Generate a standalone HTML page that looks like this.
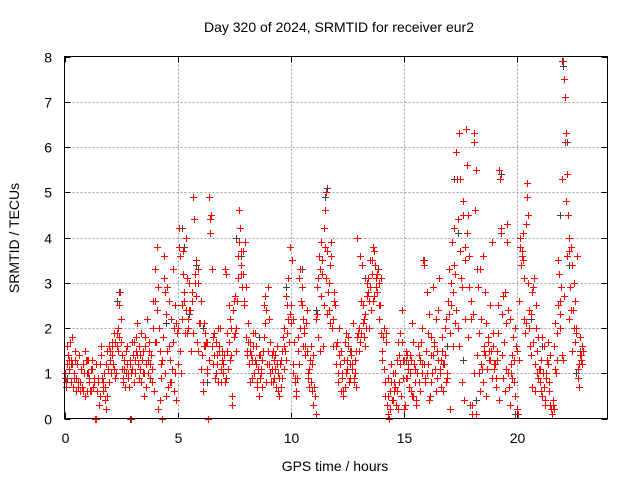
<!DOCTYPE html>
<html><head><meta charset="utf-8"><style>
html,body{margin:0;padding:0;background:#fff;}
svg{display:block;font-family:"Liberation Sans",sans-serif;}
</style></head><body>
<svg id="chart" width="640" height="480" viewBox="0 0 640 480">
<rect x="0" y="0" width="640" height="480" fill="#fff"/>
<text x="339" y="32" font-size="14" text-anchor="middle" fill="#000">Day 320 of 2024, SRMTID for receiver eur2</text>
<text transform="translate(19,238) rotate(-90)" font-size="14" text-anchor="middle" fill="#000">SRMTID / TECUs</text>
<text x="335" y="471" font-size="14" text-anchor="middle" fill="#000">GPS time / hours</text>
<g id="grid"></g>
<g id="ticks"></g>
<g id="pts"></g>
<rect x="64.5" y="56.5" width="543" height="362" fill="none" stroke="#000" stroke-width="1"/>
</svg>
<script>
const xTicks=[0,5,10,15,20];
const yTicks=[0,1,2,3,4,5,6,7,8];
const redT=[
0.00,0.05,0.10,0.15,0.20,0.25,0.30,0.35,0.40,0.45,0.50,0.55,0.60,0.65,0.70,0.75,0.80,0.85,0.90,0.95,
0.02,0.08,0.12,0.18,0.22,0.28,0.32,0.38,0.42,0.48,0.52,0.58,0.62,0.68,0.72,0.78,0.82,0.88,0.92,0.98,
1.00,1.05,1.10,1.15,1.20,1.25,1.30,1.35,1.40,1.45,1.50,1.55,1.60,1.65,1.70,1.75,1.80,1.85,1.90,1.95,
1.02,1.08,1.12,1.18,1.22,1.28,1.32,1.38,1.42,1.48,1.52,1.58,1.62,1.68,1.72,1.78,1.82,1.88,1.92,1.98,
2.00,2.05,2.10,2.15,2.20,2.25,2.30,2.35,2.40,2.45,2.50,2.55,2.60,2.65,2.70,2.75,2.80,2.85,2.90,2.95,
2.02,2.08,2.12,2.18,2.22,2.28,2.32,2.38,2.42,2.48,2.52,2.58,2.62,2.68,2.72,2.78,2.82,2.88,2.92,2.98,
3.00,3.05,3.10,3.15,3.20,3.25,3.30,3.35,3.40,3.45,3.50,3.55,3.60,3.65,3.70,3.75,3.80,3.85,3.90,3.95,
3.02,3.08,3.12,3.18,3.22,3.28,3.32,3.38,3.42,3.48,3.52,3.58,3.62,3.68,3.72,3.78,3.82,3.88,3.92,3.98,
4.00,4.05,4.10,4.15,4.20,4.25,4.30,4.35,4.40,4.45,4.50,4.55,4.60,4.65,4.70,4.75,4.80,4.85,4.90,4.95,
4.02,4.08,4.12,4.18,4.22,4.28,4.32,4.38,4.42,4.48,4.52,4.58,4.62,4.68,4.72,4.78,4.82,4.88,4.92,4.98,
5.00,5.05,5.10,5.15,5.20,5.25,5.30,5.35,5.40,5.45,5.50,5.55,5.60,5.65,5.70,5.75,5.80,5.85,5.90,5.95,
5.02,5.08,5.12,5.18,5.22,5.28,5.32,5.38,5.42,5.48,5.52,5.58,5.62,5.68,5.72,5.78,5.82,5.88,5.92,5.98,
6.00,6.05,6.10,6.15,6.20,6.25,6.30,6.35,6.40,6.45,6.50,6.55,6.60,6.65,6.70,6.75,6.80,6.85,6.90,6.95,
6.02,6.08,6.12,6.18,6.22,6.28,6.32,6.38,6.42,6.48,6.52,6.58,6.62,6.68,6.72,6.78,6.82,6.88,6.92,6.98,
7.00,7.05,7.10,7.15,7.20,7.25,7.30,7.35,7.40,7.45,7.50,7.55,7.60,7.65,7.70,7.75,7.80,7.85,7.90,7.95,
7.02,7.08,7.12,7.18,7.22,7.28,7.32,7.38,7.42,7.48,7.52,7.58,7.62,7.68,7.72,7.78,7.82,7.88,7.92,7.98,
8.00,8.05,8.10,8.15,8.20,8.25,8.30,8.35,8.40,8.45,8.50,8.55,8.60,8.65,8.70,8.75,8.80,8.85,8.90,8.95,
8.02,8.08,8.12,8.18,8.22,8.28,8.32,8.38,8.42,8.48,8.52,8.58,8.62,8.68,8.72,8.78,8.82,8.88,8.92,8.98,
9.00,9.05,9.10,9.15,9.20,9.25,9.30,9.35,9.40,9.45,9.50,9.55,9.60,9.65,9.70,9.75,9.80,9.85,9.90,9.95,
9.02,9.08,9.12,9.18,9.22,9.28,9.32,9.38,9.42,9.48,9.52,9.58,9.62,9.68,9.72,9.78,9.82,9.88,9.92,9.98,
10.00,10.05,10.10,10.15,10.20,10.25,10.30,10.35,10.40,10.45,10.50,10.55,10.60,10.65,10.70,10.75,10.80,10.85,10.90,10.95,
10.02,10.08,10.12,10.18,10.22,10.28,10.32,10.38,10.42,10.48,10.52,10.58,10.62,10.68,10.72,10.78,10.82,10.88,10.92,10.98,
11.00,11.05,11.10,11.15,11.20,11.25,11.30,11.35,11.40,11.45,11.50,11.55,11.60,11.65,11.70,11.75,11.80,11.85,11.90,11.95,
11.02,11.08,11.12,11.18,11.22,11.28,11.32,11.38,11.42,11.48,11.52,11.58,11.62,11.68,11.72,11.78,11.82,11.88,11.92,11.98,
12.00,12.05,12.10,12.15,12.20,12.25,12.30,12.35,12.40,12.45,12.50,12.55,12.60,12.65,12.70,12.75,12.80,12.85,12.90,12.95,
12.02,12.08,12.12,12.18,12.22,12.28,12.32,12.38,12.42,12.48,12.52,12.58,12.62,12.68,12.72,12.78,12.82,12.88,12.92,12.98,
13.00,13.05,13.10,13.15,13.20,13.25,13.30,13.35,13.40,13.45,13.50,13.55,13.60,13.65,13.70,13.75,13.80,13.85,13.90,13.95,
13.02,13.08,13.12,13.18,13.22,13.28,13.32,13.38,13.42,13.48,13.52,13.58,13.62,13.68,13.72,13.78,13.82,13.88,13.92,13.98,
14.00,14.05,14.10,14.15,14.20,14.25,14.30,14.35,14.40,14.45,14.50,14.55,14.60,14.65,14.70,14.75,14.80,14.85,14.90,14.95,
14.02,14.08,14.12,14.18,14.22,14.28,14.32,14.38,14.42,14.48,14.52,14.58,14.62,14.68,14.72,14.78,14.82,14.88,14.92,14.98,
15.00,15.05,15.10,15.15,15.20,15.25,15.30,15.35,15.40,15.45,15.50,15.55,15.60,15.65,15.70,15.75,15.80,15.85,15.90,15.95,
15.02,15.08,15.12,15.18,15.22,15.28,15.32,15.38,15.42,15.48,15.52,15.58,15.62,15.68,15.72,15.78,15.82,15.88,15.92,15.98,
16.00,16.05,16.10,16.15,16.20,16.25,16.30,16.35,16.40,16.45,16.50,16.55,16.60,16.65,16.70,16.75,16.80,16.85,16.90,16.95,
16.02,16.08,16.12,16.18,16.22,16.28,16.32,16.38,16.42,16.48,16.52,16.58,16.62,16.68,16.72,16.78,16.82,16.88,16.92,16.98,
17.00,17.05,17.10,17.15,17.20,17.25,17.30,17.35,17.40,17.45,17.50,17.55,17.60,17.65,17.70,17.75,17.80,17.85,17.90,17.95,
17.02,17.08,17.12,17.18,17.22,17.28,17.32,17.38,17.42,17.48,17.52,17.58,17.62,17.68,17.72,17.78,17.82,17.88,17.92,17.98,
18.00,18.05,18.10,18.15,18.20,18.25,18.30,18.35,18.40,18.45,18.50,18.55,18.60,18.65,18.70,18.75,18.80,18.85,18.90,18.95,
18.02,18.08,18.12,18.18,18.22,18.28,18.32,18.38,18.42,18.48,18.52,18.58,18.62,18.68,18.72,18.78,18.82,18.88,18.92,18.98,
19.00,19.05,19.10,19.15,19.20,19.25,19.30,19.35,19.40,19.45,19.50,19.55,19.60,19.65,19.70,19.75,19.80,19.85,19.90,19.95,
19.02,19.08,19.12,19.18,19.22,19.28,19.32,19.38,19.42,19.48,19.52,19.58,19.62,19.68,19.72,19.78,19.82,19.88,19.92,19.98,
20.00,20.05,20.10,20.15,20.20,20.25,20.30,20.35,20.40,20.45,20.50,20.55,20.60,20.65,20.70,20.75,20.80,20.85,20.90,20.95,
20.02,20.08,20.12,20.18,20.22,20.28,20.32,20.38,20.42,20.48,20.52,20.58,20.62,20.68,20.72,20.78,20.82,20.88,20.92,20.98,
21.00,21.05,21.10,21.15,21.20,21.25,21.30,21.35,21.40,21.45,21.50,21.55,21.60,21.65,21.70,21.75,21.80,21.85,21.90,21.95,
21.02,21.08,21.12,21.18,21.22,21.28,21.32,21.38,21.42,21.48,21.52,21.58,21.62,21.68,21.72,21.78,21.82,21.88,21.92,21.98,
22.00,22.05,22.10,22.15,22.20,22.25,22.30,22.35,22.40,22.45,22.50,22.55,22.60,22.65,22.70,22.75,22.80,22.85,22.88,22.90,
22.02,22.06,22.08,22.12,22.16,22.22,22.28,22.32,22.38,22.42,22.48,22.52,22.58,22.62,22.68,22.72,22.78,22.82,22.86,22.89
];
const redV=[
0.9,0.8,1.2,1.4,1.1,1.7,1.3,1.8,1.0,1.5,0.9,1.2,0.7,1.4,0.8,1.1,0.6,1.0,0.5,1.3,
1.0,0.7,1.6,1.1,1.3,0.8,1.2,0.7,0.9,1.3,0.6,0.8,1.4,0.6,1.1,0.7,1.2,1.0,1.5,1.3,
0.6,1.3,0.9,0.6,1.1,0.7,0.9,0,0,0.6,0.8,0.5,1.6,0.9,0.7,1.0,0.4,0.2,1.5,0.8,
1.0,0.8,0.6,1.1,1.3,0.7,0.8,1.2,0.6,0.9,0.3,1.2,1.4,0.6,0.8,0.7,1.2,0.5,1.1,1.6,
1.5,1.0,1.7,1.2,1.9,0.9,1.6,2.0,1.8,2.8,2.2,1.1,0.8,1.3,1.0,1.6,0.9,0.7,1.2,1.0,
1.3,1.6,1.4,1.1,1.7,1.0,1.9,1.5,2.5,1.7,1.4,0.9,1.1,0.7,1.5,1.2,1.0,1.3,0,1.7,
1.1,1.7,1.3,1.5,2.1,1.2,0.9,1.4,1.9,1.0,0.5,1.6,1.2,2.2,1.3,1.7,0.9,1.1,2.0,0.6,
1.4,0.8,1.0,1.8,1.4,1.6,1.1,0.8,1.3,1.5,1.0,1.8,0.7,1.0,1.5,1.2,1.4,0.8,2.6,1.7,
2.6,1.7,3.8,2.9,0.4,1.2,0,1.8,3.6,2.8,0.5,2.9,1.6,0.8,2.2,1.1,3.3,0.6,2.5,0.4,
3.3,2.4,0.2,2.0,1.5,0.9,1.3,3.1,1.0,2.3,1.5,0.7,2.6,1.3,0.8,1.7,2.0,1.0,2.1,1.9,
1.2,4.2,3.6,1.0,2.5,3.2,2.8,4.0,1.9,2.2,3.0,2.4,1.5,2.6,4.9,3.2,3.5,1.7,3.0,2.1,
2.0,3.8,1.5,2.2,3.7,2.6,1.9,2.4,3.1,2.0,2.4,1.5,2.8,1.9,4.4,3.0,2.7,3.3,1.5,2.1,
2.1,1.1,0.6,1.6,1.9,1.7,1.0,0,4.9,4.4,3.3,1.8,1.4,0.9,1.7,1.2,2.0,1.5,0.8,1.3,
2.6,1.4,0.8,2.1,1.6,1.1,1.7,1.3,4.1,4.5,1.6,1.2,1.9,1.0,1.4,0.8,1.6,2.0,1.1,1.5,
1.0,1.4,3.3,0.9,1.9,2.5,1.3,2.0,0.3,2.4,1.8,2.7,1.5,3.1,4.6,4.2,3.7,2.9,3.2,2.5,
1.2,0.8,3.2,1.5,1.1,1.7,2.2,1.4,0.5,2.6,1.9,2.0,2.6,3.6,3.9,3.4,3.2,3.7,2.6,3.9,
1.8,1.5,2.1,1.2,1.7,1.4,0.9,1.9,1.3,1.6,0.8,1.1,0.5,1.4,1.0,0.7,1.8,2.7,2.4,1.2,
2.9,1.4,1.7,0.8,1.5,1.3,1.6,1.0,1.9,1.2,0.7,1.4,0.9,1.1,1.3,1.5,2.5,2.1,0.8,2.9,
1.5,2.2,1.0,1.4,0.8,1.3,1.1,0.7,1.6,1.0,0.5,1.3,0.9,1.8,2.0,1.5,2.7,1.9,3.1,2.3,
1.2,1.7,0.8,1.1,1.5,0.9,1.4,1.2,0.6,0.9,1.2,0.7,1.5,1.1,1.6,1.3,2.5,2.2,1.7,3.8,
2.1,3.5,1.0,1.7,0.8,0.5,1.5,1.2,3.3,2.6,2.9,2.2,1.9,1.4,2.4,1.0,0.7,1.3,0.8,1.2,
2.5,2.2,1.2,0.9,0.6,0.9,1.8,3.1,2.0,2.5,1.6,2.0,1.6,2.1,1.5,0.9,1.1,1.6,0.6,1.4,
0.3,0.5,0.1,2.3,1.8,3.6,1.5,3.9,3.2,2.5,4.6,5.0,3.7,2.8,2.4,3.4,3.9,2.2,2.8,2.5,
0.7,0.5,2.2,2.9,3.1,3.3,2.7,3.5,1.6,4.2,3.8,3.1,2.3,3.0,2.1,3.6,2.0,1.6,2.6,1.2,
1.2,1.7,0.8,2.0,1.5,1.0,0.5,1.3,0.7,1.9,1.1,1.6,0.9,1.4,1.2,2.1,0.8,1.0,1.5,1.8,
1.6,1.0,1.4,1.2,0.6,0.9,0.6,1.7,1.0,1.3,1.8,0.8,1.2,1.5,1.1,0.9,1.3,0.7,4.0,1.9,
2.0,1.7,2.6,3.4,2.1,1.8,2.3,3.0,2.8,2.0,3.5,2.4,3.2,2.6,3.7,3.1,2.8,3.3,3.0,2.5,
1.5,3.6,1.9,2.5,2.2,1.6,2.0,2.7,3.1,2.6,2.9,3.5,3.8,2.7,3.4,2.9,3.2,2.2,2.5,3.1,
1.9,1.3,2.0,0.8,1.7,0.3,0.9,0,0.6,1.2,0.4,0.8,1.0,0.3,0.6,1.7,1.4,1.9,2.4,0.9,
1.5,1.8,1.1,0.5,1.9,0.1,0.5,0.2,0.8,0.4,1.0,0.6,0.7,1.3,0.2,0.8,1.2,0.5,1.7,1.3,
1.3,0.3,1.5,0.9,1.1,1.4,0.6,2.1,0.5,1.2,0.8,0.3,1.0,1.4,0.6,1.7,1.0,3.5,1.2,0.9,
0.2,0.9,1.4,1.2,0.7,1.0,1.3,0.5,1.7,1.1,0.4,1.0,1.6,0.8,1.3,2.0,1.2,3.4,0.8,1.5,
2.8,1.2,2.3,0.5,1.8,1.0,1.4,1.6,2.2,0.9,1.3,3.1,1.1,0.7,1.5,1.2,2.0,0.8,1.0,2.6,
1.0,1.9,0.4,1.4,0.8,2.9,1.7,1.1,0.6,1.5,2.4,1.0,1.3,1.8,0.6,1.2,1.4,2.2,0.9,3.3,
2.3,0.2,3.0,1.6,4.2,3.2,2.4,5.3,2.0,6.3,3.7,2.9,4.5,0.4,3.8,6.4,5.6,4.5,3.6,2.6,
1.9,2.5,3.9,2.8,3.4,2.1,5.9,4.4,1.6,5.3,3.1,0.8,4.8,3.5,2.2,4.1,1.8,2.9,0.3,2.2,
0.1,2.3,6.3,4.6,0.1,3.3,1.9,0.6,2.2,1.1,3.6,1.5,2.8,0.5,1.7,1.3,2.5,1.5,3.9,1.9,
0.3,1.0,6.1,5.5,1.4,2.9,1.0,3.3,1.2,0.8,1.6,1.4,2.1,1.1,1.8,1.5,1.3,0.9,1.6,1.2,
1.1,0.9,1.3,2.5,0.4,5.3,4.2,1.4,2.7,0.6,2.1,3.9,1.0,0.7,2.2,1.2,0.9,1.3,0.5,1.6,
1.2,0.7,1.5,1.9,5.5,4.1,2.3,0.9,1.7,2.8,1.1,4.3,2.4,0.3,1.0,1.4,1.8,0.8,2.0,0.2,
1.5,0.1,2.6,4.0,3.7,3.5,2.2,1.9,4.3,5.2,3.0,2.4,1.4,2.8,1.7,3.1,0.6,2.5,1.0,1.8,
0.2,1.3,3.8,3.4,3.6,4.1,3.1,2.1,4.9,4.5,2.0,1.6,2.3,0.7,2.9,1.2,2.0,1.5,0.9,1.1,
0.8,1.3,0.5,1.0,1.6,0.3,0.9,1.2,0.6,1.4,0.2,0.1,0.4,0.2,1.1,1.9,2.5,3.2,2.3,2.9,
1.1,0.6,1.8,0.7,0.4,1.0,1.3,1.7,0.8,0.3,0.2,0.3,1.6,2.1,1.0,1.3,3.5,2.0,2.6,1.4,
5.3,7.9,7.1,6.3,5.4,4.5,3.7,2.9,2.4,3.4,2.0,2.6,1.9,3.6,1.1,0.7,1.4,1.3,1.6,1.5,
1.3,2.7,7.5,6.1,4.8,3.6,4.0,2.2,3.8,1.5,2.4,3.0,1.7,2.0,0.9,1.2,1.8,1.4,1.6,1.2
];
const blackT=[0.1,0.3,1.0,2.3,2.4,2.9,4.5,5.2,5.3,5.5,5.8,6.1,6.3,7.4,7.6,7.8,8.6,9.8,10.5,11.1,11.6,11.5,12.6,13.3,14.2,15.1,15.9,16.9,17.2,17.4,17.6,18.2,19.2,19.3,19.9,20.6,21.1,21.9,22.0,22.05,22.1,22.2,22.3,22.6,22.8];
const blackV=[0.9,1.2,1.0,2.6,2.8,0,2.1,4.2,3.8,2.3,3.4,2.0,0.8,0.3,4.0,3.6,1.8,2.9,3.3,2.4,5.1,4.9,1.5,3.1,1.9,1.3,3.5,1.6,5.3,4.1,1.3,0.4,5.5,5.4,0.1,2.2,1.6,4.5,7.9,7.8,7.1,6.1,3.4,1.0,1.5];

const X0=64.5,X1=607.5,Y0=418.5,Y1=56.5,XMAX=24,YMAX=8;
const sx=v=>X0+(X1-X0)*v/XMAX;
const sy=v=>Y0-(Y0-Y1)*v/YMAX;
const NS='http://www.w3.org/2000/svg';
const grid=document.getElementById('grid'),ticks=document.getElementById('ticks'),pts=document.getElementById('pts');
function mk(tag,attrs,parent){const e=document.createElementNS(NS,tag);for(const k in attrs)e.setAttribute(k,attrs[k]);parent.appendChild(e);return e;}
xTicks.forEach(t=>{
  const x=Math.round(sx(t))+0.5;
  if(t>0){const g=mk('line',{x1:x,x2:x,y1:Y1,y2:Y0,stroke:'#a0a0a0','stroke-dasharray':'2,2'},grid);
  
  }
  mk('line',{x1:x,x2:x,y1:Y0,y2:Y0-6,stroke:'#000'},ticks);
  mk('line',{x1:x,x2:x,y1:Y1,y2:Y1+6,stroke:'#000'},ticks);
  const l=mk('text',{x:x,y:443,'font-size':14,'text-anchor':'middle',fill:'#000'},ticks);
  l.textContent=t;
  
  
});
yTicks.forEach(t=>{
  const y=Math.round(sy(t))+0.5;
  if(t>0&&t<YMAX){const g=mk('line',{x1:X0,x2:X1,y1:y,y2:y,stroke:'#a0a0a0','stroke-dasharray':'2,2'},grid);
  
  }
  mk('line',{x1:X0,x2:X0+6,y1:y,y2:y,stroke:'#000'},ticks);
  mk('line',{x1:X1,x2:X1-6,y1:y,y2:y,stroke:'#000'},ticks);
  const l=mk('text',{x:52,y:y+5,'font-size':14,'text-anchor':'end',fill:'#000'},ticks);
  l.textContent=t;
  
  
});
function plus(t,v,color,name){
  const x=Math.round(sx(t))+0.5,y=Math.round(sy(v))+0.5;
  const p=mk('path',{d:`M${x-3.5} ${y}H${x+3.5}M${x} ${y-3.5}V${y+3.5}`,stroke:color,'stroke-width':1,fill:'none'},pts);
  
  
}
const nB=Math.min(blackT.length,blackV.length);
for(let i=0;i<nB;i++)plus(blackT[i],blackV[i],'#404040','black-point');
const nR=Math.min(redT.length,redV.length);
for(let i=0;i<nR;i++)plus(redT[i],redV[i],'#ff0000','red-point');
</script>
</body></html>
